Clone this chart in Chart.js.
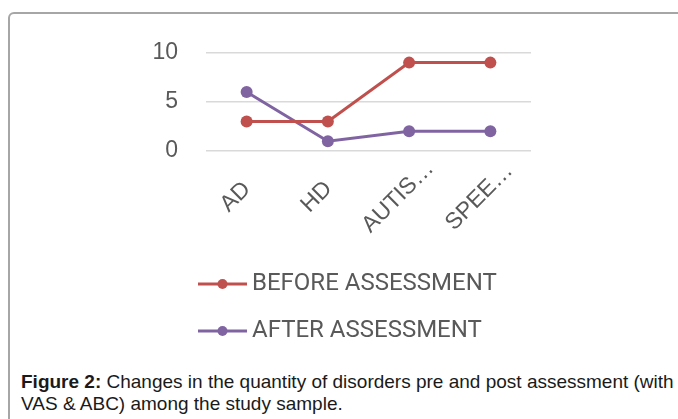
<!DOCTYPE html>
<html>
<head>
<meta charset="utf-8">
<script src="https://cdn.jsdelivr.net/npm/chart.js@4.4.1/dist/chart.umd.min.js"></script>
<style>
  html, body { margin: 0; padding: 0; background: #fff; width: 678px; height: 419px; overflow: hidden; }
  #frame {
    position: absolute; left: 8px; top: 12px; width: 700px; height: 440px;
    border: 2px solid #a6a6a6; border-top-left-radius: 6px; box-sizing: border-box;
  }
  #chart { position: absolute; left: 100px; top: 11px; }
  #caption {
    position: absolute; left: 21px; top: 371px; width: 670px;
    font-family: "Liberation Sans", Arial, sans-serif; font-size: 19px; line-height: 22px;
    color: #1a1a1a; white-space: nowrap;
  }
</style>
</head>
<body>
<div id="frame"></div>
<canvas id="chart" width="480" height="342"></canvas>
<div id="caption"><b>Figure 2:</b> Changes in the quantity of disorders pre and post assessment (with<br>VAS &amp; ABC) among the study sample.</div>

<script>
// Chart data
const categories = ['AD', 'HD', 'AUTIS\u2026', 'SPEE\u2026'];
const beforeValues = [3, 3, 9, 9];
const afterValues = [6, 1, 2, 2];
const seriesNames = ['BEFORE ASSESSMENT', 'AFTER ASSESSMENT'];
const yMin = 0;
const yMax = 10;
const yStep = 5;

const RED = '#C0504D';
const PURPLE = '#8064A2';
const TEXT = '#595959';
const FONT = "'Liberation Sans', Arial, sans-serif";
const LEGEND_FONT = "Roboto, 'Liberation Sans', sans-serif";

// legend marker: short line with a dot, sitting at the right of a wider image
function makeMarker(color) {
    const c = document.createElement('canvas');
    c.width = 85;
    c.height = 12;
    const g = c.getContext('2d');
    g.strokeStyle = color;
    g.lineWidth = 3;
    g.beginPath();
    g.moveTo(36, 6);
    g.lineTo(85, 6);
    g.stroke();
    g.fillStyle = color;
    g.beginPath();
    g.arc(60.5, 6, 5, 0, Math.PI * 2);
    g.fill();
    return c;
}
const markers = [makeMarker(RED), makeMarker(PURPLE)];

// x labels drawn rotated and centred under each tick, like the original
const rotatedLabels = {
    id: 'rotatedLabels',
    afterDraw(chart) {
        const ctx = chart.ctx;
        const xs = chart.scales.x;
        const base = chart.chartArea.bottom;
        ctx.save();
        ctx.font = '23px ' + FONT;
        ctx.fillStyle = TEXT;
        ctx.textAlign = 'center';
        ctx.textBaseline = 'middle';
        xs.ticks.forEach((t, i) => {
            const x = xs.getPixelForTick(i) - 11;
            ctx.save();
            ctx.translate(x, base + 46);
            ctx.rotate(-Math.PI / 4);
            ctx.fillText(xs.getLabelForValue(t.value), 0, 0);
            ctx.restore();
        });
        ctx.restore();
    }
};

const ctx = document.getElementById('chart').getContext('2d');
new Chart(ctx, {
    type: 'line',
    data: {
        labels: categories,
        datasets: [
            {
                label: seriesNames[0],
                data: beforeValues,
                borderColor: RED,
                backgroundColor: RED,
                borderWidth: 3,
                pointRadius: 6,
                pointHoverRadius: 6,
                pointBackgroundColor: RED,
                pointBorderWidth: 0,
                tension: 0
            },
            {
                label: seriesNames[1],
                data: afterValues,
                borderColor: PURPLE,
                backgroundColor: PURPLE,
                borderWidth: 3,
                pointRadius: 6,
                pointHoverRadius: 6,
                pointBackgroundColor: PURPLE,
                pointBorderWidth: 0,
                tension: 0
            }
        ]
    },
    options: {
        responsive: false,
        animation: false,
        layout: { padding: { left: 46, right: 49, top: 20, bottom: 0 } },
        scales: {
            x: {
                offset: true,
                grid: { display: false },
                border: { display: false },
                ticks: { display: false },
                afterFit: s => { s.height = 98; }
            },
            y: {
                min: yMin,
                max: yMax,
                grid: { color: '#d9d9d9', lineWidth: 1.5, drawTicks: false },
                border: { display: false },
                ticks: {
                    stepSize: yStep,
                    padding: 28,
                    color: TEXT,
                    font: { family: FONT, size: 23 }
                },
                afterFit: s => { s.width = 60; }
            }
        },
        plugins: {
            legend: {
                position: 'bottom',
                align: 'start',
                labels: {
                    usePointStyle: true,
                    pointStyleWidth: 71,
                    padding: 23,
                    color: TEXT,
                    font: { family: LEGEND_FONT, size: 24 },
                    generateLabels: chart => Chart.defaults.plugins.legend.labels.generateLabels(chart)
                        .map((item, i) => ({ ...item, pointStyle: markers[i] }))
                }
            },
            tooltip: { enabled: false }
        }
    },
    plugins: [rotatedLabels]
});
</script>
</body>
</html>
